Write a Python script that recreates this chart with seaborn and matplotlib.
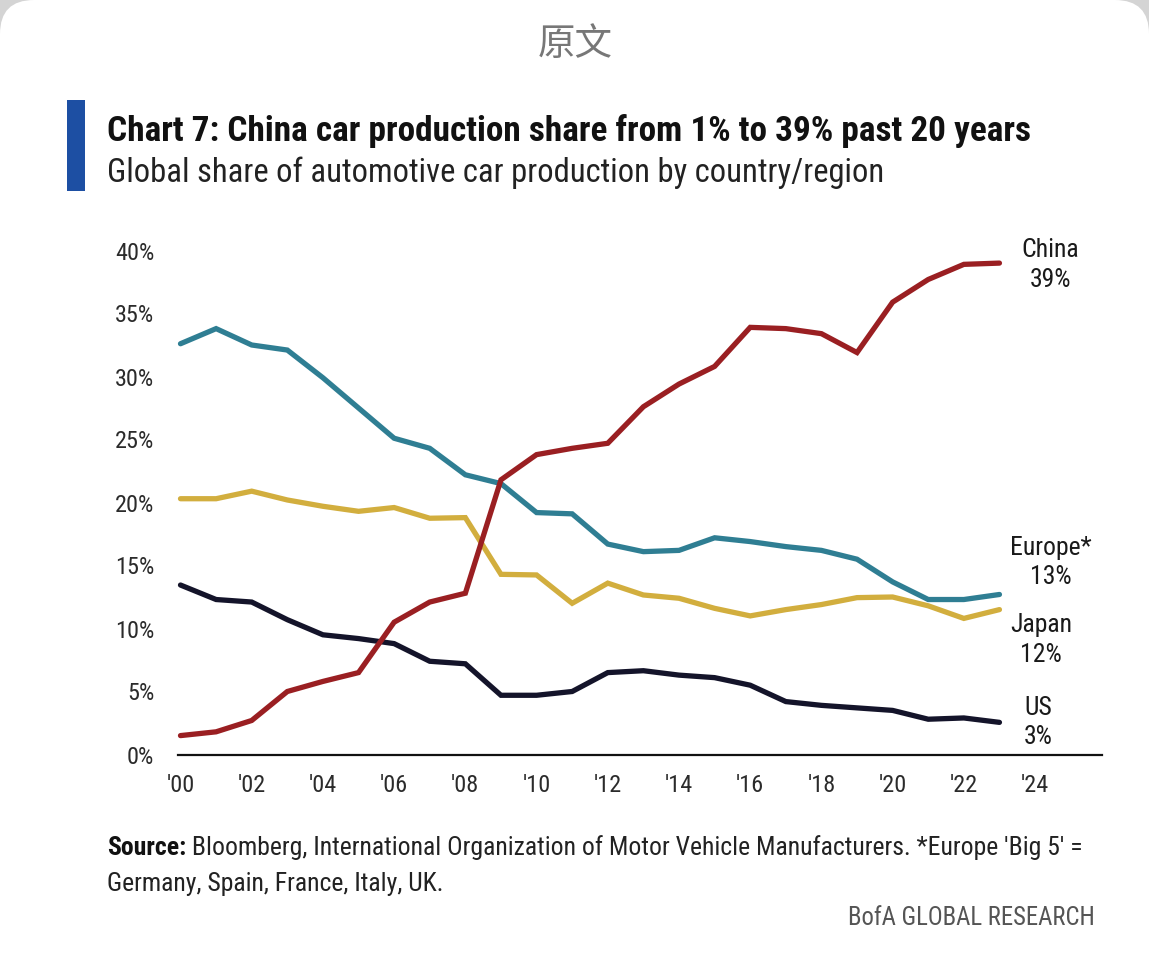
import matplotlib
matplotlib.use("Agg")
import numpy as np
import pandas as pd
import matplotlib.pyplot as plt
import seaborn as sns
from matplotlib import font_manager as fm
from matplotlib.patches import FancyBboxPatch, Rectangle
from matplotlib.transforms import IdentityTransform

# ---------------- data ----------------
years = list(range(2000, 2024))
china = [1.5, 1.8, 2.7, 5.0, 5.8, 6.5, 10.5, 12.1, 12.8, 21.8, 23.8, 24.3,
         24.7, 27.6, 29.4, 30.8, 33.9, 33.8, 33.4, 31.9, 35.9, 37.7, 38.9, 39.0]
europe = [32.6, 33.8, 32.5, 32.1, 29.9, 27.5, 25.1, 24.3, 22.2, 21.5, 19.2, 19.1,
          16.7, 16.1, 16.2, 17.2, 16.9, 16.5, 16.2, 15.5, 13.7, 12.3, 12.3, 12.7]
japan = [20.3, 20.3, 20.9, 20.2, 19.7, 19.3, 19.6, 18.75, 18.8, 14.3, 14.25, 12.0,
         13.6, 12.66, 12.4, 11.6, 11.0, 11.5, 11.9, 12.45, 12.5, 11.8, 10.8, 11.5]
us = [13.45, 12.3, 12.1, 10.7, 9.5, 9.2, 8.8, 7.4, 7.2, 4.7, 4.7, 5.0,
      6.5, 6.65, 6.3, 6.1, 5.5, 4.2, 3.9, 3.7, 3.5, 2.8, 2.9, 2.55]

series_names = ["Europe", "Japan", "US", "China"]
end_labels = ["Europe*\n13%", "Japan\n12%", "US\n3%", "China\n39%"]
y_ticks = [0, 5, 10, 15, 20, 25, 30, 35, 40]
y_tick_labels = ["0%", "5%", "10%", "15%", "20%", "25%", "30%", "35%", "40%"]
x_ticks = list(range(2000, 2025, 2))
x_tick_labels = ["'00", "'02", "'04", "'06", "'08", "'10", "'12", "'14", "'16",
                 "'18", "'20", "'22", "'24"]

title = "Chart 7: China car production share from 1% to 39% past 20 years"
subtitle = "Global share of automotive car production by country/region"
source_bold = "Source:"
source_rest = (" Bloomberg, International Organization of Motor Vehicle Manufacturers. "
               "*Europe 'Big 5' =")
source_line2 = "Germany, Spain, France, Italy, UK."
credit = "BofA GLOBAL RESEARCH"
header = "原文"

df = pd.DataFrame({
    "year": years * 4,
    "share": europe + japan + us + china,
    "region": (["Europe"] * len(years) + ["Japan"] * len(years)
               + ["US"] * len(years) + ["China"] * len(years)),
})

palette = {"China": "#9a1f22", "Europe": "#2f7e93", "Japan": "#d2ae3e", "US": "#14142a"}

# ---------------- font choice (narrowest available) ----------------
names = {}
for f in fm.fontManager.ttflist:
    names.setdefault(f.name, set()).add(str(f.stretch))
chosen, stretch = None, "normal"
for c in ["Liberation Sans Narrow", "Roboto Condensed", "Open Sans Condensed",
          "Noto Sans Condensed", "DejaVu Sans Condensed", "Arial Narrow"]:
    if c in names:
        chosen = c
        break
if chosen is None:
    for c in ["Roboto", "Noto Sans", "Open Sans", "DejaVu Sans"]:
        if c in names and any(s in ("condensed", "semi-condensed", "extra-condensed")
                              for s in names[c]):
            chosen, stretch = c, "condensed"
            break
if chosen is None:
    chosen = "Roboto" if "Roboto" in names else "DejaVu Sans"

sns.set_theme(style="white")
FONT = [chosen, "DejaVu Sans"]
plt.rcParams["font.family"] = FONT
plt.rcParams["font.stretch"] = stretch

W, H = 1149, 956
fig = plt.figure(figsize=(W / 100, H / 100), dpi=100)
fig.patch.set_facecolor("#d4d4d4")

card = FancyBboxPatch((0, -60), W, H + 60, boxstyle="round,pad=0,rounding_size=34",
                      transform=IdentityTransform(), facecolor="white",
                      edgecolor="none", zorder=0)
fig.add_artist(card)


def px(x, y):
    return x / W, 1 - y / H


# axes
left, right, bottom_px, top_px = 178, 1102, 754.5, 250.5
ax = fig.add_axes([left / W, 1 - bottom_px / H, (right - left) / W, (bottom_px - top_px) / H])
ax.set_facecolor("none")

sns.lineplot(data=df, x="year", y="share", hue="region", hue_order=series_names,
             palette=palette, linewidth=3.8, ax=ax, legend=False,
             solid_joinstyle="miter")
for ln in ax.lines:
    ln.set_clip_on(False)

ax.set_xlim(1999.93, 2025.88)
ax.set_ylim(0, 40)
ax.set_xticks(x_ticks)
ax.set_xticklabels(x_tick_labels)
ax.set_yticks(y_ticks)
ax.set_yticklabels(y_tick_labels)
ax.set_xlabel("")
ax.set_ylabel("")
ax.tick_params(axis="both", length=0, labelsize=17.5, labelcolor="#2b2b2b")
ax.tick_params(axis="y", pad=17)
ax.tick_params(axis="x", pad=14)
for s in ["top", "right", "left"]:
    ax.spines[s].set_visible(False)
ax.spines["bottom"].set_color("#111111")
ax.spines["bottom"].set_linewidth(1.6)
ax.grid(False)

# end labels (centre positions in data units)
label_pos = {"China": (2024.42, 38.85), "Europe": (2024.45, 15.25),
             "Japan": (2024.17, 9.09), "US": (2024.09, 2.54)}
for name, lab in zip(series_names, end_labels):
    x, y = label_pos[name]
    ax.text(x, y, lab, ha="center", va="center", multialignment="center",
            fontsize=18.5, color="#1a1a1a", linespacing=1.3, clip_on=False)

# header
fig.text(*px(575, 45), header, ha="center", va="center", fontsize=27,
         color="#777777", family=["Noto Sans CJK SC", "DejaVu Sans"])

# blue bar
fig.add_artist(Rectangle(px(67, 191), 18 / W, 91 / H, transform=fig.transFigure,
                         facecolor="#1d4fa3", edgecolor="none"))

fig.canvas.draw()
r = fig.canvas.get_renderer()


def fit_text(x, y, s, size, width, **kw):
    t = fig.text(*px(x, y), s, fontsize=size, **kw)
    w = t.get_window_extent(renderer=r).width
    if w > width:
        t.set_fontsize(size * width / w)
    return t


fit_text(107, 131, title, 27, 926, ha="left", va="center",
         fontweight="bold", color="#111111")
fit_text(107, 173, subtitle, 25, 777, ha="left", va="center", color="#222222")

# source
base = 18.5
t1 = fig.text(*px(107, 848), source_bold, ha="left", va="center", fontsize=base,
              fontweight="bold", color="#111111")
t2 = fig.text(0, 1 - 848 / H, source_rest, ha="left", va="center", fontsize=base,
              color="#222222")
w_all = t1.get_window_extent(renderer=r).width + t2.get_window_extent(renderer=r).width
scale = min(1.0, 988 / w_all)
t1.set_fontsize(base * scale)
t2.set_fontsize(base * scale)
bb = t1.get_window_extent(renderer=r)
t2.set_x(bb.x1 / W)
fig.text(*px(107, 884), source_line2, ha="left", va="center", fontsize=base * scale,
         color="#222222")
fit_text(1095, 918, credit, 18, 247, ha="right", va="center", color="#555555")

fig.savefig("out.png", dpi=100, facecolor=fig.get_facecolor())
